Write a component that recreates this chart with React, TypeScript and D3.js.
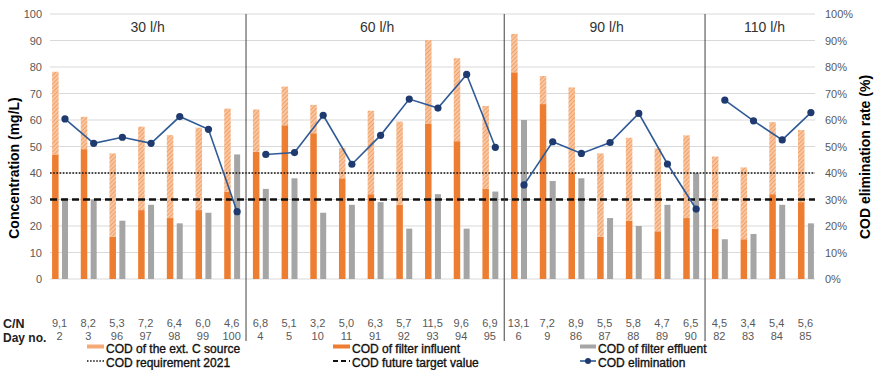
import React from "react";
import * as d3 from "d3";

const sections = ["30 l/h", "60 l/h", "90 l/h", "110 l/h"];
const sectionSizes = [7, 9, 7, 4];
const days = ["2","3","96","97","98","99","100","4","5","10","11","91","92","93","94","95","6","9","86","87","88","89","90","82","83","84","85"];
const cn = ["9,1","8,2","5,3","7,2","6,4","6,0","4,6","6,8","5,1","3,2","5,0","6,3","5,7","11,5","9,6","6,9","13,1","7,2","8,9","5,5","5,8","4,7","6,5","4,5","3,4","5,4","5,6"];
const influent = [47,49,16,26,23,26,33, 48,58,55,38,32,28,58.7,52,34, 78,66,40,16,22,18,23, 19,15,32,29];
const extC = [31.2,12.2,31.4,31.5,31.3,31.1,31.3, 16,14.6,10.7,11.3,31.5,31.4,31.5,31.3,31.3, 14.5,10.6,32.3,31.4,31.3,31.3,31.2, 27.2,27.1,27.2,27.2];
const effluent = [30.4,30,22,28,21,25,47, 34,38,25,28,29,19,32,19,33, 60,37,38,23,20,28,40, 15,17,28,21];
const elimination = [60.4,51.2,53.5,51.2,61.3,56.5,25.4, 47,47.7,61.8,43.3,54.2,67.9,64.5,77.2,49.7, 35.5,51.8,47.4,51.5,62.5,43.4,26.4, 67.5,59.7,52.5,62.8];
const yTicks = [0,10,20,30,40,50,60,70,80,90,100];
const requirement2021 = 40;
const futureTarget = 30;

const W = 874, H = 370;
const plotLeft = 45.2, plotRight = 819.8, plotTop = 14, plotBottom = 279;
const gridX0 = 50, gridX1 = 815;

export default function App() {
  const idx = days.map((_, i) => i);
  const x = d3.scaleBand<number>().domain(idx).range([plotLeft, plotRight]).padding(0);
  const y = d3.scaleLinear().domain([0, 100]).range([plotBottom, plotTop]);
  const yR = d3.scaleLinear().domain([0, 1]).range([plotBottom, plotTop]);
  const bw = x.bandwidth();

  const rows = idx.map((i) => ({ i, influent: influent[i], extC: extC[i] }));
  const stack = d3.stack<any>().keys(["influent", "extC"])(rows);

  const bounds: number[] = [];
  let acc = 0;
  sectionSizes.forEach((s) => { bounds.push(acc); acc += s; });

  const lineGen = d3.line<number>()
    .x((i) => (x(i) as number) + bw * 0.69)
    .y((i) => yR(elimination[i] / 100));

  const font = "'Liberation Sans', Arial, sans-serif";
  const orange = "#ED7D31";
  const gray = "#A5A5A5";
  const blue = "#2F5A96";
  const marker = "#1F3A6E";

  return (
    <svg width={W} height={H} style={{ display: "block", position: "absolute", left: 0, top: 0 }} fontFamily={font}>
      <defs>
        <pattern id="hatch" width="3" height="3" patternUnits="userSpaceOnUse" patternTransform="rotate(45)">
          <rect width="3" height="3" fill="#F8C6A2" />
          <line x1="0" y1="0" x2="0" y2="3" stroke="#F19856" strokeWidth="1.6" />
        </pattern>
      </defs>
      <rect width={W} height={H} fill="#fff" />
      {yTicks.map((t) => (
        <line key={t} x1={gridX0} x2={gridX1} y1={y(t)} y2={y(t)} stroke="#D9D9D9" strokeWidth={1} />
      ))}
      {yTicks.map((t) => (
        <text key={"l" + t} x={42} y={y(t) + 4} textAnchor="end" fontSize={11} fill="#595959">{t}</text>
      ))}
      {yTicks.map((t) => (
        <text key={"r" + t} x={825} y={y(t) + 4} textAnchor="start" fontSize={11} fill="#595959">{d3.format(".0%")(t / 100)}</text>
      ))}
      {stack.map((layer, li) => (
        <g key={li}>
          {layer.map((d, j) => (
            <rect key={j} x={(x(j) as number) + bw * 0.24} width={6.5}
              y={y(d[1])} height={y(d[0]) - y(d[1])}
              fill={li === 0 ? orange : "url(#hatch)"} />
          ))}
        </g>
      ))}
      {idx.map((i) => (
        <rect key={"g" + i} x={(x(i) as number) + bw * 0.585} width={6} y={y(effluent[i])}
          height={y(0) - y(effluent[i])} fill={gray} />
      ))}
      <line x1={gridX0} x2={gridX1} y1={y(requirement2021)} y2={y(requirement2021)} stroke="#111" strokeWidth={1.6} strokeDasharray="1.6,1.6" />
      <line x1={gridX0} x2={gridX1} y1={y(futureTarget)} y2={y(futureTarget)} stroke="#111" strokeWidth={2.4} strokeDasharray="7,4" />
      {bounds.slice(1).map((b) => (
        <line key={"s" + b} x1={x(b) as number} x2={x(b) as number} y1={plotTop} y2={341} stroke="#404040" strokeWidth={1} />
      ))}
      {sections.map((s, k) => {
        const a = x(bounds[k]) as number;
        const b = k + 1 < bounds.length ? (x(bounds[k + 1]) as number) : plotRight;
        return <text key={s} x={(a + b) / 2 + 2} y={32} textAnchor="middle" fontSize={14} fill="#333">{s}</text>;
      })}
      {bounds.map((b, k) => {
        const seg = idx.slice(b, b + sectionSizes[k]);
        return (
          <g key={"ln" + k}>
            <path d={lineGen(seg) || ""} fill="none" stroke={blue} strokeWidth={1.6} />
            {seg.map((i) => (
              <circle key={i} cx={(x(i) as number) + bw * 0.69} cy={yR(elimination[i] / 100)} r={3.6} fill={marker} />
            ))}
          </g>
        );
      })}
      <text transform={`translate(19,168) rotate(-90)`} textAnchor="middle" fontSize={14} fontWeight="bold" fill="#000">Concentration (mg/L)</text>
      <text transform={`translate(870,157) rotate(-90)`} textAnchor="middle" fontSize={14} fontWeight="bold" fill="#000">COD elimination rate (%)</text>
      <text x={3} y={327.5} fontSize={12.5} fontWeight="bold" fill="#222">C/N</text>
      <text x={3} y={341.5} fontSize={12} fontWeight="bold" fill="#222">Day no.</text>
      {idx.map((i) => (
        <text key={"cn" + i} x={(x(i) as number) + bw / 2} y={327} textAnchor="middle" fontSize={11} fill="#595959">{cn[i]}</text>
      ))}
      {idx.map((i) => (
        <text key={"d" + i} x={(x(i) as number) + bw / 2} y={339.5} textAnchor="middle" fontSize={11} fill="#595959">{days[i]}</text>
      ))}
      <g fontSize={12} fill="#111" stroke="#111" strokeWidth={0.35}>
        <rect x={87} y={344.5} width={17} height={4} fill="#F4AA76" stroke="none" />
        <text x={106} y={353}>COD of the ext. C source</text>
        <rect x={333} y={344.5} width={17} height={4} fill={orange} stroke="none" />
        <text x={352} y={353}>COD of filter influent</text>
        <rect x={580} y={344.5} width={16} height={4} fill={gray} stroke="none" />
        <text x={598} y={353}>COD of filter effluent</text>
        <line x1={87} x2={104} y1={361} y2={361} stroke="#111" strokeWidth={1.5} strokeDasharray="1.5,1.6" />
        <text x={106} y={366.5}>COD requirement 2021</text>
        <line x1={333} x2={350} y1={361} y2={361} stroke="#111" strokeWidth={2} strokeDasharray="5,3" />
        <text x={352} y={366.5}>COD future target value</text>
        <line x1={580} x2={596} y1={361} y2={361} stroke={blue} strokeWidth={1.6} />
        <circle cx={588} cy={361} r={3} fill={marker} stroke="none" />
        <text x={598} y={366.5}>COD elimination</text>
      </g>
    </svg>
  );
}
